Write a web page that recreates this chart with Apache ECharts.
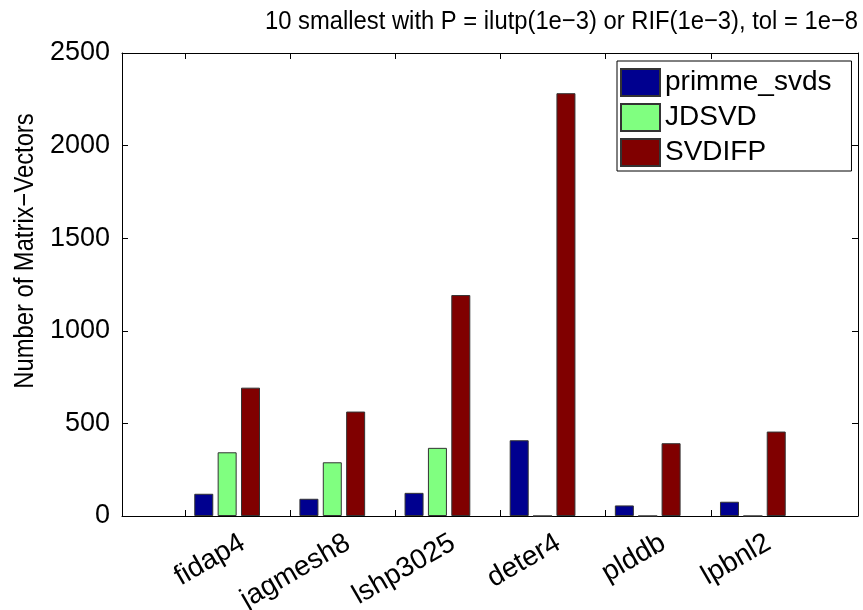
<!DOCTYPE html>
<html>
<head>
<meta charset="utf-8">
<script src="https://cdn.jsdelivr.net/npm/echarts@6/dist/echarts.min.js"></script>
<style>html,body{margin:0;padding:0;background:#fff}#c{width:863px;height:610px}</style>
</head>
<body>
<div id="c"></div>
<script>
// ---- data ----
const categories = ['fidap4', 'jagmesh8', 'lshp3025', 'deter4', 'plddb', 'lpbnl2'];
const seriesNames = ['primme_svds', 'JDSVD', 'SVDIFP'];
const primmeSvds = [120, 93, 125, 409, 57, 77];
const jdsvd = [344, 290, 368, 0, 0, 0];
const svdifp = [693, 564, 1193, 2283, 393, 456];
const yTicks = [0, 500, 1000, 1500, 2000, 2500];
const titleText = '10 smallest with P = ilutp(1e\u22123) or RIF(1e\u22123), tol = 1e\u22128';
const yLabel = 'Number of Matrix\u2212Vectors';

// ---- layout helpers ----
const positions = categories.map((_, i) => i + 1);
const tickPos = positions.map(p => p - 0.4);
const labelShift = 0.15;
const labelPos = positions.map(p => p + labelShift);
const font = 'Liberation Sans, Arial, Helvetica, sans-serif';
const colors = ['#00008f', '#80ff80', '#800000'];
const allValues = [primmeSvds, jdsvd, svdifp];

const chart = echarts.init(document.getElementById('c'), null, {renderer: 'canvas'});
const axisLine = {show: true, onZero: false, lineStyle: {color: '#000', width: 1}};
const tick = extra => Object.assign({show: true, inside: true, length: 6, lineStyle: {color: '#000', width: 1}}, extra || {});
const yMin = yTicks[0], yMax = yTicks[yTicks.length - 1], yStep = yTicks[1] - yTicks[0];
chart.setOption({
  animation: false,
  backgroundColor: '#fff',
  grid: {left: 122, top: 53, right: 5, bottom: 94, containLabel: false, outerBoundsMode: 'none'},
  legend: {
    orient: 'vertical', left: 617, top: 61,
    data: seriesNames,
    itemWidth: 39, itemHeight: 27, itemGap: 6,
    padding: [7, 20, 4, 3],
    backgroundColor: '#fff', borderColor: '#000', borderWidth: 1,
    icon: 'rect',
    textStyle: {fontFamily: font, fontSize: 28, color: '#000', lineHeight: 27, height: 27}
  },
  xAxis: [{
    type: 'value', min: 0, max: 7, position: 'bottom',
    axisLine: axisLine, splitLine: {show: false},
    axisTick: tick({customValues: tickPos}),
    axisLabel: {
      show: true, customValues: labelPos, rotate: 30, margin: 25,
      fontFamily: font, fontSize: 28, color: '#000',
      formatter: v => categories[Math.round(v - labelShift) - 1] || ''
    }
  }, {
    type: 'value', min: 0, max: 7, position: 'top',
    axisLine: axisLine, splitLine: {show: false},
    axisTick: tick({customValues: tickPos}),
    axisLabel: {show: false}
  }],
  yAxis: [{
    type: 'value', min: yMin, max: yMax, interval: yStep, position: 'left',
    axisLine: axisLine, splitLine: {show: false},
    axisTick: tick(),
    axisLabel: {fontFamily: font, fontSize: 27, color: '#000', margin: 12, formatter: v => String(v)}
  }, {
    type: 'value', min: yMin, max: yMax, interval: yStep, position: 'right',
    axisLine: axisLine, splitLine: {show: false},
    axisTick: tick(),
    axisLabel: {show: false}
  }],
  graphic: [{
    type: 'text', x: 265, y: 9, scaleX: 0.915, scaleY: 1,
    style: {text: titleText, fontFamily: font, fontSize: 26, fill: '#000', textAlign: 'left', textVerticalAlign: 'top'}
  }, {
    type: 'text', x: 26, y: 251, rotation: Math.PI / 2, scaleX: 0.88, scaleY: 1,
    style: {text: yLabel, fontFamily: font, fontSize: 27, fill: '#000', textAlign: 'center', textVerticalAlign: 'middle'}
  }],
  series: seriesNames.map((name, k) => ({
    name: name, type: 'bar', xAxisIndex: 0, yAxisIndex: 0,
    barWidth: 19, barGap: '23%',
    itemStyle: {color: colors[k], borderColor: '#333', borderWidth: 1},
    data: allValues[k].map((v, i) => [positions[i], v])
  }))
});
</script>
</body>
</html>
